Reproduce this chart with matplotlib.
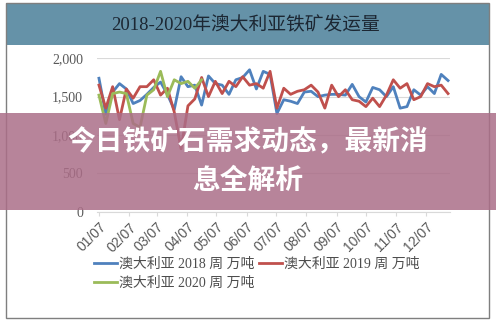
import numpy as np
import pandas as pd
import matplotlib
matplotlib.use('Agg')
import matplotlib.pyplot as plt
from matplotlib.patches import Rectangle

plt.rcParams['font.family'] = ['Liberation Serif', 'Noto Sans CJK SC']
plt.rcParams['axes.unicode_minus'] = False

# ==================== 数据 ====================
# 每周数据（万吨），从 1 月 7 日起每 7 天一个点
week_dates = pd.date_range('2018-01-07', periods=52, freq='7D')

aus_2018 = [1740, 1270, 1560, 1670, 1600, 1410, 1450, 1530, 1620, 1690,
            1530, 1330, 1760, 1630, 1650, 1390, 1770, 1670, 1650, 1530,
            1720, 1750, 1850, 1600, 1830, 1790, 1280, 1460, 1440, 1410,
            1560, 1570, 1500, 1520, 1530, 1530, 1520, 1660, 1500, 1430,
            1620, 1590, 1500, 1630, 1350, 1370, 1590, 1520, 1630, 1540,
            1790, 1710]
aus_2019 = [1650, 1350, 1630, 1200, 1600, 1480, 1630, 1630, 1720, 1520,
            1610, 1300, 820, 1380, 1470, 1750, 1500, 1700, 1540, 1700,
            1630, 1760, 1650, 1670, 1610, 1830, 1350, 1610, 1530, 1570,
            1590, 1650, 1560, 1350, 1650, 1500, 1590, 1460, 1440, 1370,
            1480, 1370, 1520, 1720, 1610, 1670, 1460, 1500, 1670, 1630,
            1650, 1540]
aus_2020 = [1520, 1150, 1540, 1560, 1540, 1150, 1100, 1520, 1590, 1830,
            1500, 1720, 1670, 1700, 1610, 1720]

# 每月 7 日的刻度
month_ticks = pd.date_range('2018-01-01', periods=12, freq='MS') + pd.Timedelta(days=6)
month_labels = ['01/07', '02/07', '03/07', '04/07', '05/07', '06/07',
                '07/07', '08/07', '09/07', '10/07', '11/07', '12/07']

series_names = ['澳大利亚 2018 周 万吨', '澳大利亚 2019 周 万吨', '澳大利亚 2020 周 万吨']
series_colors = ['#4f81bd', '#c0504d', '#9bbb59']

title = '2018-2020年澳大利亚铁矿发运量'
banner_lines = ['今日铁矿石需求动态，最新消', '息全解析']

W, H = 496, 322


def px_rect(x0, y0, x1, y1, **kw):
    # 像素坐标（左上原点）转成 figure 坐标的矩形
    return Rectangle((x0 / W, 1 - y1 / H), (x1 - x0) / W, (y1 - y0) / H,
                     transform=fig.transFigure, **kw)


# ==================== 画图 ====================
fig = plt.figure(figsize=(W / 100, H / 100), dpi=100)
fig.patch.set_facecolor('white')

# 标题栏和外框
fig.patches.append(px_rect(6, 3, 489, 45, facecolor='#6592a8', edgecolor='none', zorder=-2))
fig.patches.append(px_rect(6, 3, 489, 318, facecolor='none', edgecolor='#7f7f7f', lw=1, zorder=1))
fig.text(245 / W, 1 - 26 / H, title, ha='center', va='center', fontsize=13.5, color='#1c2733')

ax = fig.add_axes([97 / W, 1 - 211.7 / H, (450 - 97) / W, (211.7 - 58.3) / H])
ax.patch.set_alpha(0)

all_series = [aus_2018, aus_2019, aus_2020]
handles = []
for vals, name, col in zip(all_series, series_names, series_colors):
    h, = ax.plot(week_dates[:len(vals)], vals, color=col, lw=2.0, label=name)
    handles.append(h)

ax.set_ylim(0, 2000)
ax.set_yticks([0, 500, 1000, 1500, 2000])
ax.yaxis.set_major_formatter(matplotlib.ticker.FuncFormatter(lambda v, p: f'{int(v):,}'))
ax.set_xlim(week_dates[0] - pd.Timedelta(days=2), week_dates[-1] + pd.Timedelta(days=2))
ax.tick_params(axis='y', length=0, pad=10, labelsize=10, labelcolor='#595959')
ax.tick_params(axis='x', length=3, color='#d9d9d9', pad=3)
ax.set_xticks(month_ticks)
ax.set_xticklabels(month_labels)
for lab in ax.get_xticklabels():
    lab.set_rotation(45)
    lab.set_rotation_mode('anchor')
    lab.set_horizontalalignment('right')
    lab.set_verticalalignment('top')
    lab.set_fontsize(10)
    lab.set_family(['Liberation Sans'])
    lab.set_color('#595959')
ax.grid(axis='y', color='#d9d9d9', lw=0.8)
ax.set_axisbelow(True)
for s in ['top', 'right', 'left']:
    ax.spines[s].set_visible(False)
ax.spines['bottom'].set_color('#d9d9d9')

# 图例：两列，按行排列
order = [0, 2, 1]
fig.legend([handles[i] for i in order], [series_names[i] for i in order],
           ncol=2, loc='upper left', bbox_to_anchor=(88 / W, 1 - 252 / H),
           frameon=False, fontsize=10, handlelength=1.7, handletextpad=0.15,
           columnspacing=0.3, labelspacing=0.45, borderaxespad=0, labelcolor='#4d4d4d')

# 半透明横幅
fig.patches.append(px_rect(0, 113, 496, 210, facecolor='#ab6e88', edgecolor='none',
                           alpha=0.85, zorder=5))
fig.text(248 / W, 1 - 142.5 / H, banner_lines[0], ha='center', va='center', fontsize=20,
         color='white', fontweight='bold', family=['Noto Sans CJK SC'], zorder=6)
fig.text(248 / W, 1 - 180.5 / H, banner_lines[1], ha='center', va='center', fontsize=20,
         color='white', fontweight='bold', family=['Noto Sans CJK SC'], zorder=6)

fig.savefig('out.png', dpi=100)
